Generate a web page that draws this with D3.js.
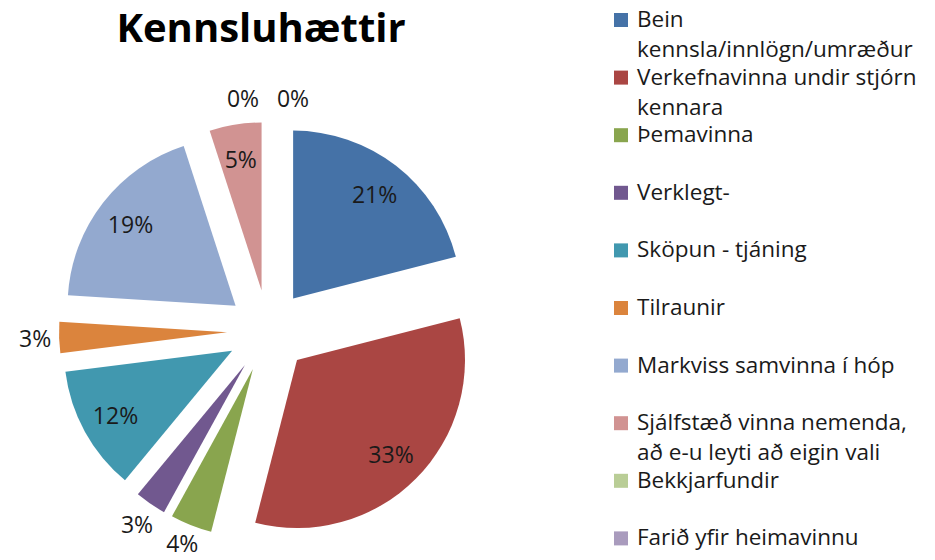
<!DOCTYPE html>
<html>
<head>
<meta charset="utf-8">
<script src="https://cdn.jsdelivr.net/npm/d3@7"></script>
<style>
    body { margin: 0; background: #fff; }
    svg { display: block; font-family: "Open Sans", Lato, sans-serif; }
</style>
</head>
<body>
<svg id="chart" width="935" height="560"></svg>
<script>
// categories (\n marks where the legend wraps)
const categories = [
    "Bein\nkennsla/innlögn/umræður",
    "Verkefnavinna undir stjórn\nkennara",
    "Þemavinna",
    "Verklegt-",
    "Sköpun - tjáning",
    "Tilraunir",
    "Markviss samvinna í hóp",
    "Sjálfstæð vinna nemenda,\nað e-u leyti að eigin vali",
    "Bekkjarfundir",
    "Farið yfir heimavinnu"
]
const shares = [21, 33, 4, 3, 12, 3, 19, 5, 0, 0]
const colors = ["#4572A7", "#AA4643", "#89A54E", "#71588F", "#4198AF",
                "#DB843D", "#93A9CF", "#D19392", "#B9CD96", "#A99BBD"]
const title = "Kennsluhættir"

;(function () {
    const width = 935
    const height = 560
    const svg = d3.select("#chart")

    const cx = 268
    const cy = 331
    const radius = 168
    const explode = 41
    const insideR = 133
    const outsideR = radius + 24

    const data = categories.map((c, i) => ({ name: c, value: shares[i], color: colors[i] }))

    const pie = d3.pie().sort(null).value(d => d.value)
    const arcs = pie(data)

    const arc = d3.arc().innerRadius(0).outerRadius(radius)
    const mid = d => (d.startAngle + d.endAngle) / 2
    const dir = d => [Math.sin(mid(d)), -Math.cos(mid(d))]

    const g = svg.append("g").attr("transform", `translate(${cx},${cy})`)

    // exploded slices
    g.selectAll("path")
        .data(arcs.filter(d => d.value > 0))
        .enter()
        .append("path")
        .attr("d", arc)
        .attr("fill", d => d.data.color)
        .attr("transform", d => {
            const [ux, uy] = dir(d)
            return `translate(${ux * explode},${uy * explode})`
        })

    // labels: big slices inside, small ones outside
    let zeroIndex = 0
    const zeroCount = arcs.filter(d => d.value === 0).length
    g.selectAll("text.pct")
        .data(arcs)
        .enter()
        .append("text")
        .attr("class", "pct")
        .attr("text-anchor", "middle")
        .attr("dominant-baseline", "central")
        .attr("font-size", 23)
        .attr("fill", "#1a1a1a")
        .attr("x", d => {
            const r = d.value >= 5 ? insideR : outsideR
            let x = dir(d)[0] * (r + explode)
            if (d.value === 0) {
                // spread stacked zero labels sideways
                x += (zeroIndex - (zeroCount - 1) / 2) * 50
                zeroIndex++
            }
            return x
        })
        .attr("y", d => {
            const r = d.value >= 5 ? insideR : outsideR
            // keep it on the canvas
            return Math.min(dir(d)[1] * (r + explode), height - cy - 17)
        })
        .text(d => d.value + "%")

    // title
    svg.append("text")
        .attr("x", 261)
        .attr("y", 42)
        .attr("text-anchor", "middle")
        .attr("font-size", 40)
        .attr("font-weight", "bold")
        .attr("fill", "#000")
        .text(title)

    // legend
    const legend = svg.append("g").attr("transform", "translate(614,27)")
    const item = legend.selectAll("g")
        .data(data)
        .enter()
        .append("g")
        .attr("transform", (d, i) => `translate(0,${i * 57.6})`)

    item.append("rect")
        .attr("x", 0)
        .attr("y", -14)
        .attr("width", 14)
        .attr("height", 14)
        .attr("fill", d => d.color)

    item.append("text")
        .attr("x", 23)
        .attr("font-size", 22.5)
        .attr("fill", "#1a1a1a")
        .selectAll("tspan")
        .data(d => d.name.split("\n"))
        .enter()
        .append("tspan")
        .attr("x", 23)
        .attr("dy", (d, i) => i === 0 ? 0 : 30)
        .text(d => d)
})()
</script>
</body>
</html>
